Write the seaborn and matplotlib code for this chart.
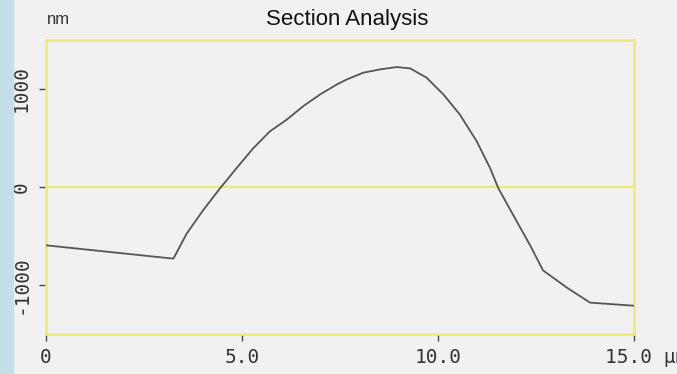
import numpy as np
import pandas as pd
import matplotlib
matplotlib.use('Agg')
import matplotlib.pyplot as plt
import matplotlib.transforms as mtransforms
import seaborn as sns

# Section profile (x in um, height in nm)
distance = [0.0, 3.25, 3.59, 4.01, 4.44, 4.86, 5.29, 5.71, 6.14, 6.56, 6.99,
            7.42, 7.67, 8.09, 8.52, 8.95, 9.29, 9.71, 10.14, 10.56, 10.99,
            11.33, 11.54, 11.92, 12.35, 12.68, 13.3, 13.88, 14.95, 15.0]
height = [-595, -731, -475, -236, -13, 192, 397, 567, 687, 824, 944,
          1046, 1097, 1166, 1200, 1224, 1210, 1115, 944, 738, 465,
          192, -13, -287, -595, -851, -1030, -1180, -1210, -1212]
x_ticks = [0, 5, 10, 15]
x_ticklabels = ['0', '5.0', '10.0', '15.0 µm']
y_ticks = [-1000, 0, 1000]
y_ticklabels = ['-1000', '0', '1000']

df = pd.DataFrame({'distance': distance, 'height': height})

sns.set_theme(style='white')
plt.rcParams['font.family'] = ['Liberation Sans', 'DejaVu Sans']

bg = '#f1f1f1'
yellow = '#e9ec74'

fig = plt.figure(figsize=(6.77, 3.74), dpi=100, facecolor=bg)
# light blue strip on the left edge
fig.patches.append(plt.Rectangle((0, 0), 13 / 677, 1, transform=fig.transFigure,
                                 color='#c6dfe7', zorder=0))

ax = fig.add_axes([46 / 677, 40 / 374, 588 / 677, 294 / 374])
ax.set_facecolor(bg)

sns.lineplot(data=df, x='distance', y='height', ax=ax, color='#555555',
             linewidth=1.3, zorder=3)
ax.axhline(0, color=yellow, linewidth=1.6, zorder=2)

ax.set_xlim(0, 15)
ax.set_ylim(-1500, 1500)
for s in ax.spines.values():
    s.set_color(yellow)
    s.set_linewidth(1.8)

ax.set_xticks(x_ticks)
ax.set_xticklabels(x_ticklabels)
ax.set_yticks(y_ticks)
ax.set_yticklabels(y_ticklabels, rotation=90, va='center')
ax.tick_params(axis='both', which='major', length=5, width=1, color='#444444',
               direction='out', labelsize=14, labelcolor='#333333',
               bottom=True, left=True)
ax.tick_params(axis='x', pad=5)
ax.tick_params(axis='y', pad=6)
for lab in ax.get_xticklabels() + ax.get_yticklabels():
    lab.set_fontfamily('DejaVu Sans Mono')
# push the unit label so the number sits under its tick (it runs off the edge, as in the source)
last = ax.get_xticklabels()[-1]
last.set_horizontalalignment('left')
last.set_transform(last.get_transform() +
                   mtransforms.ScaledTranslation(-29 / 100, 0, fig.dpi_scale_trans))

ax.set_xlabel('')
ax.set_ylabel('')

fig.text(347 / 677, 1 - 19 / 374, 'Section Analysis', ha='center', va='center',
         fontsize=16, color='#111111')
fig.text(47 / 677, 1 - 20 / 374, 'nm', ha='left', va='center',
         fontsize=12, color='#333333')

fig.savefig('out.png', dpi=100, facecolor=bg)
